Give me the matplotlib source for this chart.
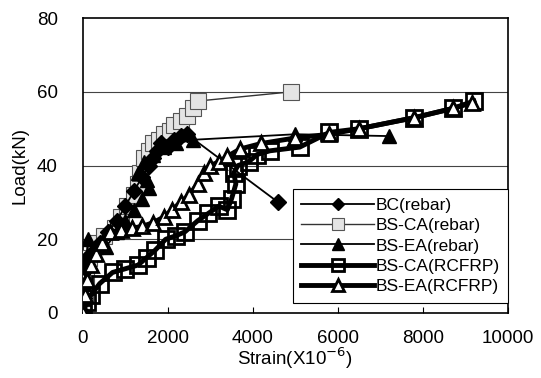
import matplotlib.pyplot as plt

plt.rcParams['font.family'] = ['Liberation Sans', 'DejaVu Sans']

# strain (x1e-6) and load (kN) for each specimen
bc_rebar_x = [0, 30, 60, 80, 100, 200, 400, 600, 800, 1000, 1200, 1400, 1550, 1650,
              1750, 1850, 2000, 2150, 2300, 2450, 4600]
bc_rebar_y = [0, 4, 8, 12, 15, 16, 19, 22, 25, 29, 33, 37, 40, 42,
              44, 46, 45, 47, 48, 48.5, 30]

bsca_rebar_x = [0, 50, 80, 150, 300, 500, 750, 900, 1050, 1200, 1300, 1350, 1440, 1550,
                1650, 1800, 1900, 2050, 2150, 2300, 2450, 2600, 2700, 4900]
bsca_rebar_y = [0, 5, 10, 15, 19, 21, 23, 26, 29, 32, 35, 38, 42, 44,
                46, 47, 48.5, 49.5, 51, 52, 53.5, 55.5, 57.5, 60]

bsea_rebar_x = [0, 40, 80, 120, 300, 550, 800, 1000, 1200, 1400, 1550, 1500, 1300, 1450,
                1650, 1900, 2200, 2600, 5000, 7200]
bsea_rebar_y = [0, 8, 14, 20, 18, 18, 22, 25, 28, 31, 34, 36, 38, 41,
                43, 45, 46, 47, 48.5, 48]

bsca_frp_x = [0, 100, 200, 400, 700, 1000, 1300, 1500, 1700, 1950, 2200, 2400, 2700, 2950,
              3200, 3400, 3500, 3600, 3550, 3650, 3900, 4100, 4400, 5100, 5800, 6500,
              7800, 8700, 9200]
bsca_frp_y = [0, 3, 5, 8, 11, 12, 13, 15, 17, 20, 21, 22, 25, 27,
              29, 28, 31, 35, 38, 40, 41, 43, 44, 45, 49, 50,
              53, 55.5, 57.5]

bsea_frp_x = [0, 50, 100, 200, 300, 450, 650, 900, 1150, 1400, 1650, 1900, 2100, 2300,
              2500, 2700, 2850, 3000, 3200, 3400, 3700, 4200, 5000, 5800, 6500, 7800,
              8700, 9150]
bsea_frp_y = [0, 5, 9, 13, 16, 19, 22, 22.5, 23, 23.5, 24.5, 26, 28, 30,
              32, 35, 38, 40, 41, 42.5, 44.5, 46, 47.5, 48.5, 50, 53,
              55.5, 57]

fig, ax = plt.subplots(figsize=(5.41, 3.78), dpi=100)
fig.subplots_adjust(left=0.153, right=0.939, bottom=0.172, top=0.952)

ax.plot(bc_rebar_x, bc_rebar_y, color='black', lw=1.3, marker='D', ms=8,
        mfc='black', mec='black', label='BC(rebar)', zorder=4)
ax.plot(bsca_rebar_x, bsca_rebar_y, color='#333333', lw=1.0, marker='s', ms=11,
        mfc='#e4e4e4', mec='#555555', mew=0.8, label='BS-CA(rebar)', zorder=3)
ax.plot(bsea_rebar_x, bsea_rebar_y, color='black', lw=1.3, marker='^', ms=10,
        mfc='black', mec='black', label='BS-EA(rebar)', zorder=4)
ax.plot(bsca_frp_x, bsca_frp_y, color='black', lw=3.5, marker='s', ms=11,
        mfc='none', mec='black', mew=2.0, label='BS-CA(RCFRP)', zorder=5)
ax.plot(bsea_frp_x, bsea_frp_y, color='black', lw=3.5, marker='^', ms=10,
        mfc='white', mec='black', mew=2.0, label='BS-EA(RCFRP)', zorder=5)

ax.set_xlim(0, 10000)
ax.set_ylim(0, 80)
ax.set_xticks(range(0, 10001, 2000))
ax.set_yticks(range(0, 81, 20))
for yv in [20, 40, 60]:
    ax.axhline(yv, color='#444444', lw=0.8, zorder=1)

ax.tick_params(axis='x', direction='in', length=4, labelsize=13.5, pad=12)
ax.tick_params(axis='y', direction='in', length=0, labelsize=13.5, pad=18)
for sp in ax.spines.values():
    sp.set_linewidth(1.2)

ax.set_xlabel('Strain(X10$^{-6}$)', fontsize=13.5, labelpad=-1)
ax.set_ylabel('Load(kN)', fontsize=13.5, labelpad=6)

leg = ax.legend(loc='lower right', bbox_to_anchor=(1.0, 0.034), borderaxespad=0,
                fontsize=12.5, handlelength=4.2, handletextpad=0.05,
                labelspacing=0.3, fancybox=False, framealpha=1,
                edgecolor='black', borderpad=0.5, markerscale=0.8)
leg.get_frame().set_linewidth(0.8)

fig.savefig('out.png', dpi=100)
